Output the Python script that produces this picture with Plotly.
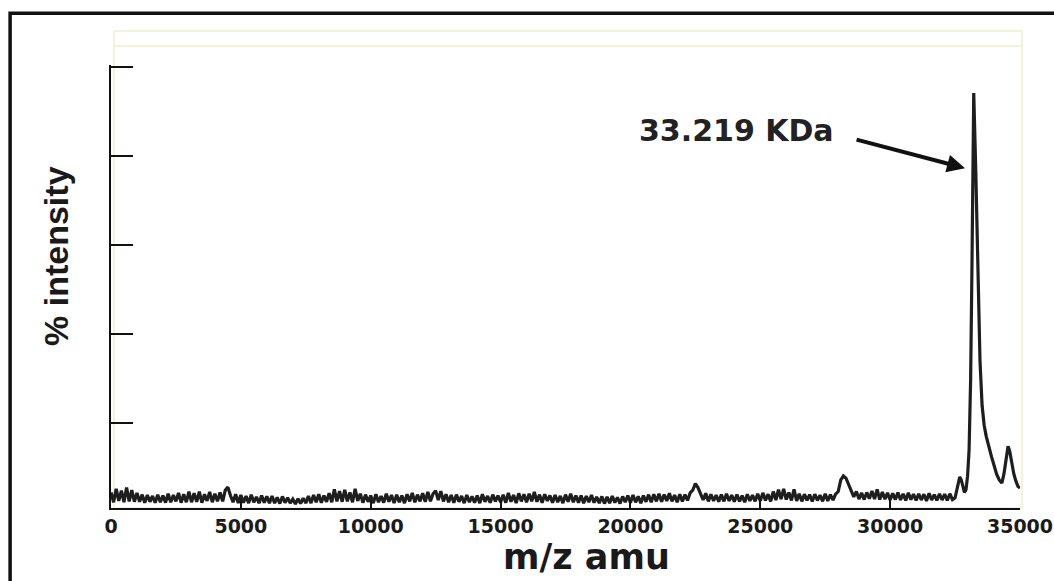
import plotly.graph_objects as go

# MALDI-TOF spectrum: baseline region sampled every 100 m/z
baseline_mz = list(range(0, 32500, 100))
baseline_intensity = [
    4.4, 2.2, 5.2, 2.5, 4.8, 2.2, 5.5, 2.4, 4.9, 2.3,
    4.3, 2.3, 3.9, 2.1, 3.8, 2.3, 3.6, 2.1, 3.9, 2.2,
    3.7, 2.1, 4.1, 2.2, 3.8, 2.4, 4.3, 2.1, 4.0, 2.2,
    4.6, 2.2, 4.2, 2.3, 4.6, 2.1, 4.0, 2.5, 4.5, 2.2,
    4.1, 2.4, 4.4, 2.4, 4.9, 5.6, 3.7, 2.2, 4.0, 2.0,
    3.8, 2.1, 3.6, 2.0, 3.9, 2.2, 3.4, 2.0, 3.7, 2.1,
    3.5, 2.0, 3.6, 2.0, 3.3, 1.9, 3.5, 2.1, 3.2, 2.0,
    2.9, 1.8, 3.0, 1.9, 3.1, 2.0, 3.6, 2.0, 3.8, 2.2,
    4.0, 2.1, 3.7, 2.3, 4.2, 2.2, 5.1, 2.4, 4.7, 2.3,
    5.0, 2.4, 4.4, 2.2, 5.2, 2.5, 4.1, 2.1, 3.9, 2.3,
    3.7, 2.0, 4.0, 2.2, 3.6, 2.1, 4.1, 2.3, 3.8, 2.0,
    3.9, 2.2, 3.7, 2.0, 4.0, 2.4, 4.3, 2.2, 3.9, 2.4,
    4.2, 2.3, 4.5, 2.4, 4.1, 4.8, 2.7, 4.7, 2.4, 4.0,
    2.2, 3.8, 2.1, 3.9, 2.3, 3.6, 2.0, 3.8, 2.2, 3.5,
    2.1, 3.7, 2.0, 4.0, 2.3, 3.6, 2.1, 3.9, 2.4, 3.7,
    2.2, 3.9, 2.1, 4.3, 2.3, 3.8, 2.0, 4.2, 2.4, 4.0,
    2.2, 4.1, 2.4, 4.5, 2.3, 3.9, 2.1, 4.0, 2.5, 3.7,
    2.1, 3.8, 2.2, 3.6, 2.0, 3.9, 2.3, 4.1, 2.2, 3.7,
    2.1, 3.7, 2.0, 3.6, 2.2, 3.8, 2.1, 3.4, 2.0, 3.5,
    1.9, 3.4, 2.0, 3.6, 2.1, 3.3, 1.9, 3.5, 2.2, 3.7,
    2.1, 3.8, 2.2, 3.5, 2.0, 3.7, 2.3, 3.9, 2.2, 4.0,
    2.4, 4.1, 2.3, 3.9, 2.5, 4.2, 2.4, 3.8, 2.2, 4.0,
    2.4, 3.9, 2.6, 4.3, 4.9, 6.4, 5.5, 4.3, 2.7, 4.2,
    2.4, 4.0, 2.5, 3.8, 2.3, 3.9, 2.4, 4.1, 2.5, 3.8,
    2.3, 3.9, 2.4, 3.7, 2.2, 4.0, 2.5, 3.8, 2.4, 4.1,
    2.5, 4.3, 2.6, 4.0, 2.4, 4.6, 2.7, 5.0, 2.9, 5.2,
    2.8, 4.4, 2.6, 5.1, 2.5, 4.1, 2.4, 4.0, 2.6, 3.9,
    2.4, 4.0, 2.6, 3.8, 2.4, 4.1, 2.5, 3.9, 2.7, 4.0,
    4.6, 7.2, 8.1, 7.6, 6.3, 5.0, 3.4, 4.6, 2.9, 4.3,
    2.8, 4.4, 3.0, 4.7, 2.9, 5.1, 2.8, 4.5, 2.9, 4.3,
    2.7, 4.2, 2.8, 4.4, 2.7, 4.1, 2.6, 4.3, 2.8, 4.0,
    2.6, 4.1, 2.7, 4.0, 2.5, 4.2, 2.7, 3.9, 2.6, 4.1,
    2.7, 4.0, 2.6, 4.1, 2.8,
]

# Protein peak cluster (main ion at 33219 m/z)
peak_mz = [
    32500, 32560, 32620, 32680, 32740, 32800, 32860, 32920, 32980, 33040,
    33100, 33150, 33190, 33219, 33300, 33380, 33460, 33540, 33620, 33700,
    33800, 33900, 34000, 34100, 34200, 34300, 34380, 34460, 34540, 34600,
    34680, 34760, 34840, 34920, 35000,
]
peak_intensity = [
    3.2, 4.8, 6.8, 7.9, 7.2, 5.4, 4.4, 5.0, 8.0, 14.0,
    30.0, 55.0, 80.0, 94.2, 76.0, 52.0, 34.0, 24.0, 19.5, 17.0,
    14.5, 12.5, 10.5, 8.5, 7.2, 6.5, 8.5, 12.0, 14.8, 13.8,
    10.8, 8.6, 7.0, 5.8, 5.4,
]

mz = baseline_mz + peak_mz
intensity = baseline_intensity + peak_intensity

x_ticks = [0, 5000, 10000, 15000, 20000, 25000, 30000, 35000]
y_ticks = [20, 40, 60, 80, 100]

peak_label = "33.219 KDa"
x_title = "m/z amu"
y_title = "% intensity"

fig = go.Figure()
fig.add_trace(go.Scatter(
    x=mz, y=intensity, mode="lines",
    line=dict(color="#1e1e1e", width=3.2),
    showlegend=False, hoverinfo="skip",
))

fig.update_layout(
    width=1054, height=581,
    margin=dict(l=111, r=34, t=65, b=73, autoexpand=False),
    paper_bgcolor="white", plot_bgcolor="white",
    xaxis=dict(
        range=[0, 35000], tickvals=x_ticks, tickformat="d",
        ticklabeloverflow="allow", automargin=False,
        showgrid=False, zeroline=False,
        showline=True, linecolor="#111", linewidth=2,
        ticks="inside", ticklen=8, tickwidth=2, tickcolor="#111",
        tickfont=dict(family="DejaVu Sans", size=19, color="#1a1a1a", weight="bold"),
    ),
    yaxis=dict(
        range=[0.9, 100.5], tickvals=y_ticks, showticklabels=False,
        automargin=False,
        showgrid=False, zeroline=False,
        showline=True, linecolor="#111", linewidth=2,
        ticks="inside", ticklen=22, tickwidth=2, tickcolor="#111",
    ),
)

# outer black frame and pale plot-area border
fig.add_shape(type="rect", xref="paper", yref="paper",
              x0=-0.111, y0=-0.6, x1=1.3, y1=1.117,
              line=dict(color="#111", width=3.5), layer="below")
fig.add_shape(type="rect", xref="paper", yref="paper",
              x0=0.0033, y0=0, x1=1.0022, y1=1.0767,
              line=dict(color="#efefcc", width=1.5), layer="below")
fig.add_shape(type="line", xref="paper", yref="paper",
              x0=0.0033, y0=1.0429, x1=1.0022, y1=1.0429,
              line=dict(color="#efefcc", width=1.5), layer="below")

# peak label and pointer arrow
fig.add_annotation(x=24066, y=85.8, xref="x", yref="y", text=peak_label,
                   showarrow=False, xanchor="center", yanchor="middle",
                   font=dict(family="DejaVu Sans", size=30, color="#222", weight="bold"))
fig.add_annotation(x=32885, y=77.3, xref="x", yref="y", text="",
                   showarrow=True, ax=-110, ay=-29, arrowhead=2, arrowsize=0.9,
                   arrowwidth=4, arrowcolor="#111", standoff=0)

# axis titles
fig.add_annotation(x=0.5226, y=-0.16, xref="paper", yref="paper", text=x_title,
                   showarrow=False, xanchor="center", yanchor="bottom",
                   font=dict(family="DejaVu Sans", size=35, color="#1a1a1a", weight="bold"))
fig.add_annotation(x=-0.0605, y=0.569, xref="paper", yref="paper", text=y_title,
                   showarrow=False, xanchor="center", yanchor="middle", textangle=-90,
                   font=dict(family="Liberation Sans", size=34, color="#1a1a1a", weight="bold"))

fig.write_html("out.html")
